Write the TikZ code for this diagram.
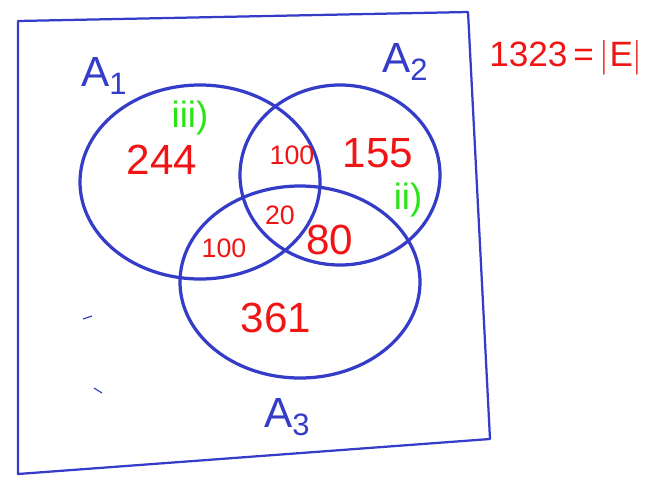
\documentclass[tikz,border=0pt]{standalone}
\usepackage{fontspec}
\setmainfont{Liberation Sans}
\usetikzlibrary{calc}
\definecolor{penblue}{RGB}{52,60,200}
\definecolor{penred}{RGB}{240,20,20}
\definecolor{pengreen}{RGB}{40,230,20}
\newcommand{\setsub}[1]{\raisebox{-0.35ex}{\fontsize{22}{22}\selectfont #1}}
\tikzset{
  setline/.style={draw=penblue, line width=2.3pt},
  framebox/.style={draw=penblue, line width=1.6pt, line join=round},
  setname/.style={text=penblue, font=\fontsize{30}{32}\selectfont, inner sep=0pt},
  bignum/.style={text=penred, font=\fontsize{30}{32}\selectfont, inner sep=0pt},
  smallnum/.style={text=penred, font=\fontsize{19}{21}\selectfont, inner sep=0pt},
  partlabel/.style={text=pengreen, font=\fontsize{26}{28}\selectfont, inner sep=0pt}
}

\begin{document}
\begin{tikzpicture}[x=0.025cm, y=-0.025cm]
\useasboundingbox (0,0) rectangle (651,480);

%% Universe frame
\coordinate (tl) at (18,21);
\coordinate (tr) at (468,12);
\coordinate (br) at (490,439);
\coordinate (bl) at (18,474);
\draw[framebox] (tl) -- (tr) -- (br) -- (bl) -- cycle;

%% Sets
\draw[setline] (200,182) ellipse [x radius=120, y radius=97];
\draw[setline] (340,175) ellipse [x radius=100, y radius=90];
\draw[setline] (300,282) ellipse [x radius=120, y radius=96];

%% Set names
\node[setname] (a1) at (104,76) {A\setsub{1}};
\node[setname] (a2) at (405,62) {A\setsub{2}};
\node[setname] (a3) at (287,417) {A\setsub{3}};

%% Region counts
\node[bignum]   (n1)   at (162,160) {244};
\node[smallnum] (n12)  at (292,155) {100};
\node[bignum]   (n2)   at (378,153) {155};
\node[smallnum] (n123) at (280,215) {20};
\node[smallnum] (n13)  at (224,248) {100};
\node[bignum]   (n23)  at (330,240) {80};
\node[bignum]   (n3)   at (276,318) {361};

%% Part marks
\node[partlabel] (p3) at (190,118) {iii)};
\node[partlabel] (p2) at (408,200) {ii)};

%% Total
\node[text=penred, font=\fontsize{25}{27}\selectfont, inner sep=0pt] (tot) at (566,58) {1323\,=\,$|$E$|$};

%% Stray strokes
\draw[penblue, line width=0.8pt] (83,319) -- (92,316);
\draw[penblue, line width=0.8pt] (94,388) -- (102,393);

\end{tikzpicture}
\end{document}
